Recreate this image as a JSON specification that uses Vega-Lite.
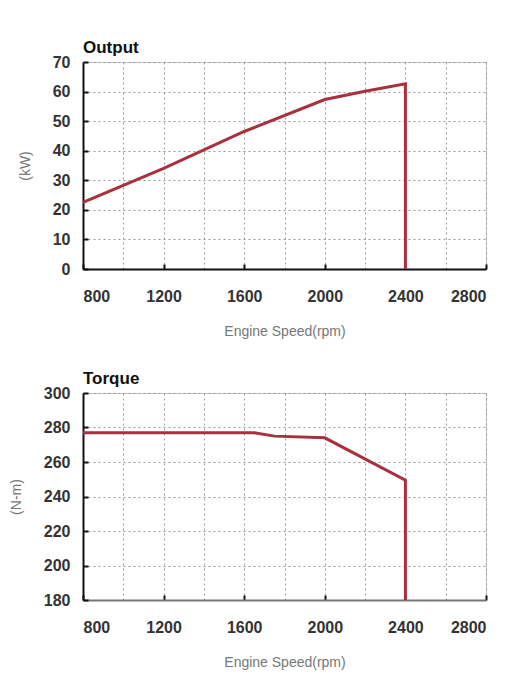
{
  "$schema": "https://vega.github.io/schema/vega-lite/v6.json",
  "background": "white",
  "padding": {"left": 8, "top": 38, "right": 20, "bottom": 10},
  "datasets": {
    "output": [
      {"rpm": 800, "kw": 22.5},
      {"rpm": 1200, "kw": 34},
      {"rpm": 1600, "kw": 46.5},
      {"rpm": 2000, "kw": 57.3},
      {"rpm": 2200, "kw": 60.1},
      {"rpm": 2400, "kw": 62.6},
      {"rpm": 2400, "kw": 0}
    ],
    "torque": [
      {"rpm": 800, "nm": 277},
      {"rpm": 1650, "nm": 277},
      {"rpm": 1750, "nm": 275},
      {"rpm": 2000, "nm": 274},
      {"rpm": 2400, "nm": 249.5},
      {"rpm": 2400, "nm": 180}
    ]
  },
  "spacing": 30,
  "vconcat": [
    {
      "width": 403,
      "height": 207,
      "title": {"text": "Output"},
      "data": {"name": "output"},
      "mark": {"type": "line", "color": "#a8313d", "strokeWidth": 3, "order": false},
      "encoding": {
        "x": {"field": "rpm", "type": "quantitative", "scale": {"domain": [800, 2800]},
          "axis": {"title": "Engine Speed(rpm)", "format": "d", "values": [800,1000,1200,1400,1600,1800,2000,2200,2400,2600,2800],
            "labelExpr": "datum.value % 400 === 0 ? datum.label : ''",
            "tickOpacity": {"condition": {"test": "datum.value % 400 === 0", "value": 1}, "value": 0}}},
        "y": {"field": "kw", "type": "quantitative", "scale": {"domain": [0, 70]},
          "axis": {"title": "(kW)", "values": [0,10,20,30,40,50,60,70]}}
      }
    },
    {
      "width": 403,
      "height": 207,
      "title": {"text": "Torque"},
      "data": {"name": "torque"},
      "mark": {"type": "line", "color": "#a8313d", "strokeWidth": 3, "order": false},
      "encoding": {
        "x": {"field": "rpm", "type": "quantitative", "scale": {"domain": [800, 2800]},
          "axis": {"title": "Engine Speed(rpm)", "format": "d", "domainColor": "#777", "values": [800,1000,1200,1400,1600,1800,2000,2200,2400,2600,2800],
            "labelExpr": "datum.value % 400 === 0 ? datum.label : ''",
            "tickOpacity": {"condition": {"test": "datum.value % 400 === 0", "value": 1}, "value": 0}}},
        "y": {"field": "nm", "type": "quantitative", "scale": {"domain": [180, 300]},
          "axis": {"title": "(N-m)", "values": [180,200,220,240,260,280,300]}}
      }
    }
  ],
  "config": {
    "font": "Liberation Sans",
    "view": {"stroke": "#cccccc"},
    "title": {"anchor": "start", "frame": "group", "fontSize": 17, "fontWeight": "bold", "color": "#111", "offset": -3},
    "axis": {
      "domainColor": "#111",
      "domainWidth": 2,
      "tickColor": "#111",
      "tickWidth": 2,
      "tickSize": -5,
      "labelFontSize": 16,
      "labelColor": "#333",
      "labelFontWeight": "bold",
      "titleFontSize": 14,
      "titleColor": "#777",
      "titleFontWeight": "normal",
      "gridColor": "#999",
      "gridDash": [2, 3],
      "gridWidth": 1
    },
    "axisX": {"labelPadding": 24, "titlePadding": 20},
    "axisY": {"labelPadding": 18, "titlePadding": 20}
  }
}
